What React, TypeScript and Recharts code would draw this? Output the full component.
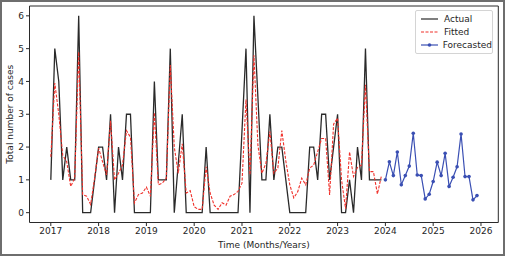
import React from "react";
import {
  LineChart,
  Line,
  XAxis,
  YAxis,
  ReferenceArea,
  Legend,
} from "recharts";

const START_YEAR = 2017;

// Monthly values, Jan 2017 .. Dec 2023
const actualCases = [
  1, 5, 4, 1, 2, 1, 1, 6, 0, 0, 0, 1,
  2, 2, 1, 3, 0, 2, 1, 3, 3, 0, 0, 0,
  0, 0, 4, 1, 1, 1, 5, 0, 1.5, 3, 0, 0,
  0, 0, 0, 2, 0, 0, 0, 0, 0, 0, 0, 0,
  2.5, 5, 0, 6, 3.5, 1, 1, 3, 1, 2, 2, 1,
  0, 0, 0, 0, 0, 2, 2, 1, 3, 3, 1, 2,
  3, 0, 0, 1, 0, 2, 1, 5, 1, 1, 1, 1,
];

const fittedCases = [
  1.7, 3.95, 3.0, 1.75, 1.55, 0.8, 1.05, 4.9, 0.55, 0.5, 0.25, 1.05,
  1.97, 1.55, 1.15, 2.8, 1.0, 1.2, 1.45, 2.5, 2.3, 0.3, 0.55, 0.6,
  0.78, 0.5, 3.05, 0.85, 0.9, 1.05, 4.5, 2.0, 1.2, 2.1, 0.6, 0.67,
  0.18, 0.1, 0.1, 1.4, 0.6, 0.23, 0.1, 0.3, 0.23, 0.5, 0.55, 0.65,
  0.9, 3.45, 1.15, 4.8, 2.05, 1.2, 1.5, 2.47, 1.2, 1.36, 2.5, 1.58,
  0.85, 0.45, 0.64, 1.05, 0.85, 1.36, 1.45, 1.86, 2.26, 2.26, 0.54, 2.7,
  2.88, 1.0, 0.12, 1.85, 1.1, 1.38, 1.45, 3.9, 1.25, 1.25, 0.57, 1.12,
];

// Monthly forecast, Jan 2024 .. Dec 2025
const forecastCases = [
  1.0, 1.55, 1.13, 1.85, 0.85, 1.13, 1.42, 2.42, 1.15, 1.13, 0.42, 0.56,
  0.95, 1.54, 1.13, 1.81, 0.8, 1.08, 1.4, 2.4, 1.1, 1.1, 0.39, 0.52,
];

const yearTicks = [2017, 2018, 2019, 2020, 2021, 2022, 2023, 2024, 2025, 2026];
const caseTicks = [0, 1, 2, 3, 4, 5, 6];

const seriesNames = { actual: "Actual", fitted: "Fitted", forecast: "Forecasted" };

const totalMonths = actualCases.length + forecastCases.length;
const data = Array.from({ length: totalMonths }, (_, i) => ({
  t: i,
  actual: i < actualCases.length ? actualCases[i] : null,
  fitted: i < fittedCases.length ? fittedCases[i] : null,
  forecast: i >= actualCases.length ? forecastCases[i - actualCases.length] : null,
}));

const FONT = "'DejaVu Sans', sans-serif";
const TEXT = "#262626";
const BLACK = "#2a2a2a";
const RED = "#f0302a";
const BLUE = "#3a4fb3";

const xMin = -5.35;
const xMax = 112.35;
const yMin = -0.3;
const yMax = 6.3;

const LegendBox = () => {
  const rows = [
    { name: seriesNames.actual, color: BLACK, dash: undefined as string | undefined, dot: false },
    { name: seriesNames.fitted, color: RED, dash: "3 1.5", dot: false },
    { name: seriesNames.forecast, color: BLUE, dash: undefined, dot: true },
  ];
  return (
    <div
      style={{
        width: 78,
        height: 44,
        boxSizing: "border-box",
        border: "1px solid #d4d4d4",
        borderRadius: 2,
        background: "rgba(255,255,255,0.85)",
        fontFamily: FONT,
        fontSize: 9,
        color: TEXT,
        paddingTop: 2,
      }}
    >
      {rows.map((r) => (
        <div key={r.name} style={{ display: "flex", alignItems: "center", height: 12.7 }}>
          <svg width={26} height={10} style={{ marginLeft: 2 }}>
            <line x1={3} x2={20} y1={5} y2={5} stroke={r.color} strokeWidth={1.2} strokeDasharray={r.dash} />
            {r.dot && <circle cx={11.5} cy={5} r={1.8} fill={r.color} />}
          </svg>
          <span style={{ lineHeight: "10px" }}>{r.name}</span>
        </div>
      ))}
    </div>
  );
};

export default function App() {
  return (
    <div style={{ position: "absolute", left: 0, top: 0, width: 505, height: 256, background: "#fff" }}>
      <LineChart
        width={505}
        height={256}
        data={data}
        margin={{ top: 6, right: 6.7, left: 0, bottom: 0 }}
      >
        <XAxis
          dataKey="t"
          type="number"
          domain={[xMin, xMax]}
          allowDataOverflow
          ticks={yearTicks.map((y) => (y - START_YEAR) * 12)}
          tickFormatter={(v: number) => String(START_YEAR + v / 12)}
          height={33.5}
          axisLine={false}
          tickSize={3.5}
          tickMargin={2}
          tickLine={{ stroke: BLACK }}
          tick={{ fontSize: 9, fill: TEXT, fontFamily: FONT }}
          label={{
            content: (props: any) => {
              const vb = props.viewBox || {};
              return (
                <text
                  x={vb.x + vb.width / 2}
                  y={247.5}
                  textAnchor="middle"
                  fontSize={9}
                  fill={TEXT}
                  fontFamily={FONT}
                >
                  Time (Months/Years)
                </text>
              );
            },
          }}
        />
        <YAxis
          type="number"
          domain={[yMin, yMax]}
          allowDataOverflow
          ticks={caseTicks}
          width={29.5}
          axisLine={false}
          tickSize={3.5}
          tickMargin={2}
          tickLine={{ stroke: BLACK }}
          tick={{ fontSize: 9, fill: TEXT, fontFamily: FONT }}
          label={{
            content: (props: any) => {
              const vb = props.viewBox || {};
              const cy = vb.y + vb.height / 2;
              return (
                <text
                  x={12.5}
                  y={cy}
                  transform={`rotate(-90, 12.5, ${cy})`}
                  textAnchor="middle"
                  fontSize={9}
                  fill={TEXT}
                  fontFamily={FONT}
                >
                  Total number of cases
                </text>
              );
            },
          }}
        />
        <Line
          dataKey="actual"
          name={seriesNames.actual}
          stroke={BLACK}
          strokeWidth={1.3}
          dot={false}
          isAnimationActive={false}
          type="linear"
        />
        <Line
          dataKey="fitted"
          name={seriesNames.fitted}
          stroke={RED}
          strokeWidth={1.1}
          strokeDasharray="3 1.5"
          dot={false}
          isAnimationActive={false}
          type="linear"
        />
        <Line
          dataKey="forecast"
          name={seriesNames.forecast}
          stroke={BLUE}
          strokeWidth={1.2}
          dot={{ r: 1.8, fill: BLUE, stroke: BLUE, strokeWidth: 0 }}
          isAnimationActive={false}
          type="linear"
        />
        <ReferenceArea
          x1={xMin}
          x2={xMax}
          y1={yMin}
          y2={yMax}
          fill="none"
          stroke={BLACK}
          strokeWidth={1}
          ifOverflow="visible"
        />
        <Legend
          layout="horizontal"
          verticalAlign="middle"
          align="center"
          content={() => <LegendBox />}
          wrapperStyle={{ position: "absolute", left: 415, top: 10, width: 78, height: 44 }}
        />
      </LineChart>
      <div
        style={{
          position: "absolute",
          left: 0,
          top: 0,
          width: 505,
          height: 256,
          boxSizing: "border-box",
          border: "2px solid #6e6e6e",
          pointerEvents: "none",
        }}
      />
    </div>
  );
}
